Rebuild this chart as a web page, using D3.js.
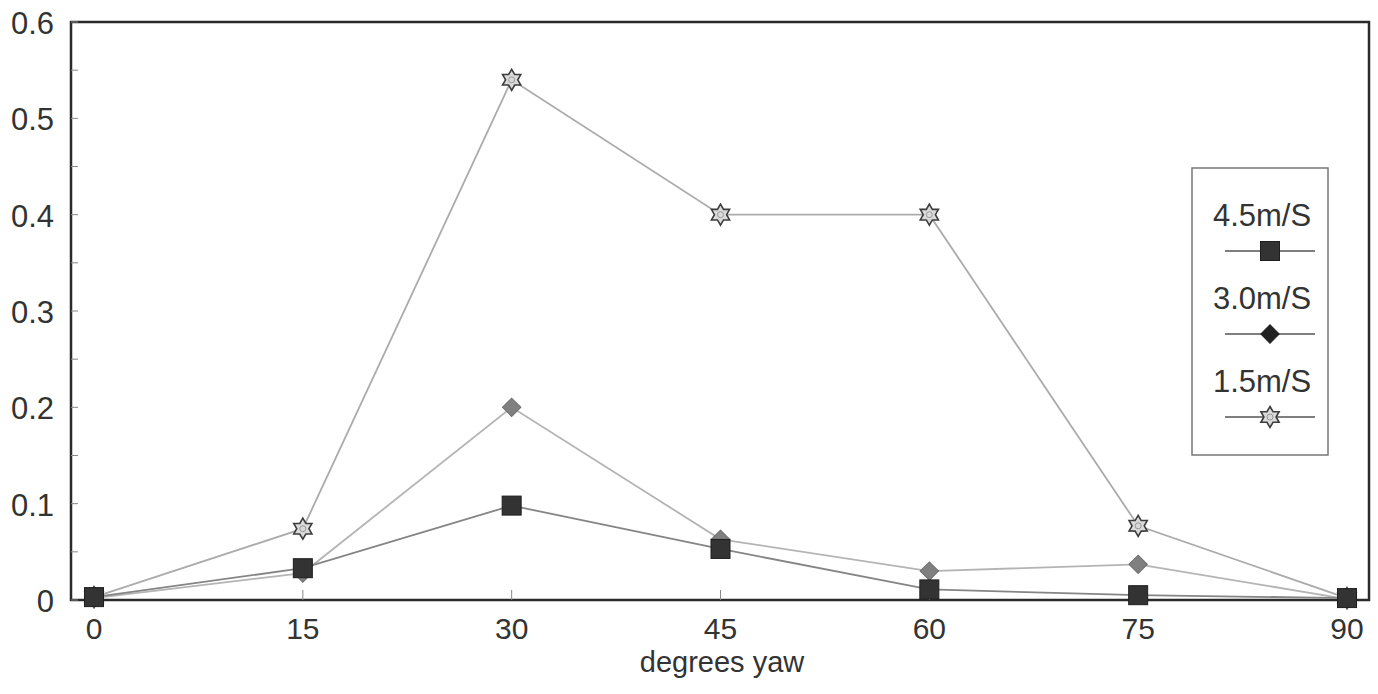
<!DOCTYPE html>
<html>
<head>
<meta charset="utf-8">
<script src="https://cdn.jsdelivr.net/npm/d3@7"></script>
<style>
  body { margin: 0; background: #fff; }
  svg { display: block; font-family: "Liberation Sans", Arial, sans-serif; }
</style>
</head>
<body>
<div id="chart"></div>
<script>
const yaw = [0, 15, 30, 45, 60, 75, 90];
const speed45 = [0.003, 0.033, 0.098, 0.053, 0.011, 0.005, 0.002];
const speed30 = [0.002, 0.028, 0.200, 0.063, 0.030, 0.037, 0.001];
const speed15 = [0.003, 0.074, 0.540, 0.400, 0.400, 0.077, 0.002];
const seriesNames = ["4.5m/S", "3.0m/S", "1.5m/S"];
const yTicks = [0, 0.1, 0.2, 0.3, 0.4, 0.5, 0.6];

const W = 1378, H = 694;
const frame = { left: 71, right: 1369, top: 22, bottom: 600 };

const svg = d3.select("#chart").append("svg")
    .attr("width", W)
    .attr("height", H);

const x = d3.scaleLinear().domain([0, 90]).range([94, 1347]);
const y = d3.scaleLinear().domain([0, 0.6]).range([frame.bottom, frame.top]);

// six pointed star marker
function hexagram(r) {
    const pts = [];
    for (let i = 0; i < 12; i++) {
        const a = Math.PI / 6 * i - Math.PI / 2;
        const rr = i % 2 === 0 ? r : r * 0.58;
        pts.push([rr * Math.cos(a), rr * Math.sin(a)]);
    }
    return "M" + pts.map(p => p.join(",")).join("L") + "Z";
}

const styles = [
    { data: speed45, line: "#858585", fill: "#333", stroke: "#1e1e1e", shape: "square" },
    { data: speed30, line: "#b4b4b4", fill: "#808080", stroke: "#6e6e6e", shape: "diamond" },
    { data: speed15, line: "#ababab", fill: "#dadada", stroke: "#3c3c3c", shape: "star" }
];

function drawMarker(g, shape, cx, cy, s) {
    if (shape === "square") {
        g.append("rect")
            .attr("x", cx - 9.5).attr("y", cy - 9.5)
            .attr("width", 19).attr("height", 19)
            .attr("fill", s.fill).attr("stroke", s.stroke).attr("stroke-width", 1);
    } else if (shape === "diamond") {
        g.append("path")
            .attr("transform", `translate(${cx},${cy}) rotate(45)`)
            .attr("d", "M-6.5,-6.5H6.5V6.5H-6.5Z")
            .attr("fill", s.fill).attr("stroke", s.stroke).attr("stroke-width", 1);
    } else {
        g.append("path")
            .attr("transform", `translate(${cx},${cy})`)
            .attr("d", hexagram(10.5))
            .attr("fill", s.fill).attr("stroke", s.stroke).attr("stroke-width", 1.6);
        g.append("circle")
            .attr("cx", cx).attr("cy", cy).attr("r", 3)
            .attr("fill", "none").attr("stroke", "#999").attr("stroke-width", 1);
    }
}

// frame
svg.append("rect")
    .attr("x", frame.left).attr("y", frame.top)
    .attr("width", frame.right - frame.left)
    .attr("height", frame.bottom - frame.top)
    .attr("fill", "none").attr("stroke", "#2a2a2a").attr("stroke-width", 2.5);

// y axis ticks (inward) and labels
const yMinor = d3.range(0, 0.601, 0.05);
svg.append("g").selectAll("line").data(yMinor).join("line")
    .attr("x1", frame.left).attr("x2", frame.left + 7)
    .attr("y1", d => y(d)).attr("y2", d => y(d))
    .attr("stroke", "#888").attr("stroke-width", 1);

svg.append("g").selectAll("text").data(yTicks).join("text")
    .attr("x", 54)
    .attr("y", d => y(d) + 12)
    .attr("text-anchor", "end")
    .attr("font-size", 31)
    .attr("fill", "#333")
    .text(d => d === 0 ? "0" : d3.format(".1f")(d));

// x axis ticks and labels
svg.append("g").selectAll("line").data(yaw).join("line")
    .attr("x1", d => x(d)).attr("x2", d => x(d))
    .attr("y1", frame.bottom).attr("y2", frame.bottom - 10)
    .attr("stroke", "#888").attr("stroke-width", 1);

svg.append("g").selectAll("text").data(yaw).join("text")
    .attr("x", d => x(d))
    .attr("y", 639)
    .attr("text-anchor", "middle")
    .attr("font-size", 30)
    .attr("fill", "#333")
    .text(d => d);

svg.append("text")
    .attr("x", 722).attr("y", 672)
    .attr("text-anchor", "middle")
    .attr("font-size", 29)
    .attr("fill", "#333")
    .text("degrees yaw");

// series lines
const line = d3.line().x((d, i) => x(yaw[i])).y(d => y(d));
[2, 1, 0].forEach(k => {
    const s = styles[k];
    svg.append("path")
        .datum(s.data)
        .attr("d", line)
        .attr("fill", "none")
        .attr("stroke", s.line)
        .attr("stroke-width", 1.8);
});

// markers
[2, 1, 0].forEach(k => {
    const s = styles[k];
    const g = svg.append("g");
    s.data.forEach((v, i) => drawMarker(g, s.shape, x(yaw[i]), y(v), s));
});

// legend
const lg = svg.append("g");
lg.append("rect")
    .attr("x", 1192).attr("y", 168)
    .attr("width", 136).attr("height", 287)
    .attr("fill", "#fff").attr("stroke", "#777").attr("stroke-width", 1.5);

const legendRows = [215, 298, 381];
seriesNames.forEach((name, k) => {
    const s = styles[k];
    const ty = legendRows[k];
    lg.append("text")
        .attr("x", 1262).attr("y", ty + 11)
        .attr("text-anchor", "middle")
        .attr("font-size", 31)
        .attr("fill", "#333")
        .text(name);
    const my = ty + 36;
    lg.append("line")
        .attr("x1", 1225).attr("x2", 1315)
        .attr("y1", my).attr("y2", my)
        .attr("stroke", "#555").attr("stroke-width", 1.3);
    drawMarker(lg, s.shape, 1270, my, k === 1 ? { fill: "#222", stroke: "#222" } : s);
});
</script>
</body>
</html>
